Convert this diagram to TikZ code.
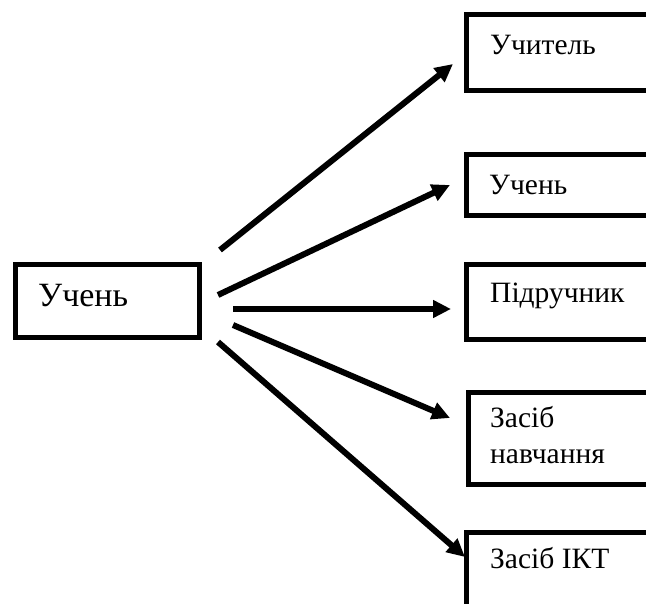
\documentclass[tikz,border=0pt]{standalone}
\usepackage{fontspec}
\setmainfont{Liberation Serif}
\usetikzlibrary{arrows.meta}
\begin{document}
\begin{tikzpicture}[x=1pt,y=-1pt,
  box/.style={draw, line width=5pt, inner sep=0pt, outer sep=0pt, anchor=north west},
  lbl/.style={inner sep=0pt, anchor=base west, font=\fontsize{29.5pt}{35pt}\selectfont},
  biglbl/.style={inner sep=0pt, anchor=base west, font=\fontsize{34pt}{40pt}\selectfont},
  arr/.style={line width=6pt, -{Triangle[length=18pt,width=17pt]}}]
\useasboundingbox (0,0) rectangle (646,604);
% boxes
\node[box, minimum width=184pt, minimum height=73pt] (b0) at (15.5,264.5) {};
\node[box, minimum width=240pt, minimum height=76pt] (b1) at (466.5,14.5) {};
\node[box, minimum width=240pt, minimum height=61pt] (b2) at (466.5,154.5) {};
\node[box, minimum width=240pt, minimum height=75pt] (b3) at (466.5,264.5) {};
\node[box, minimum width=240pt, minimum height=92pt] (b4) at (468.5,392.5) {};
\node[box, minimum width=240pt, minimum height=120pt] (b5) at (466.5,532.5) {};
% labels
\node[biglbl] (t0) at (38,307) {Учень};
\node[lbl] (t1) at (490,55) {Учитель};
\node[lbl] (t2) at (489,195) {Учень};
\node[lbl] (t3) at (490,303) {Підручник};
\node[lbl] (t4a) at (490,428) {Засіб};
\node[lbl] (t4b) at (490,463) {навчання};
\node[lbl] (t5) at (490,568) {Засіб ІКТ};
% arrows
\coordinate (s1) at (220,250); \coordinate (e1) at (453,64);
\coordinate (s2) at (218,295); \coordinate (e2) at (450,185);
\coordinate (s3) at (233,309); \coordinate (e3) at (451,309);
\coordinate (s4) at (233,325); \coordinate (e4) at (450,418);
\coordinate (s5) at (218,342); \coordinate (e5) at (465,557);
\draw[arr] (s1) -- (e1);
\draw[arr] (s2) -- (e2);
\draw[arr] (s3) -- (e3);
\draw[arr] (s4) -- (e4);
\draw[arr] (s5) -- (e5);
\end{tikzpicture}
\end{document}
